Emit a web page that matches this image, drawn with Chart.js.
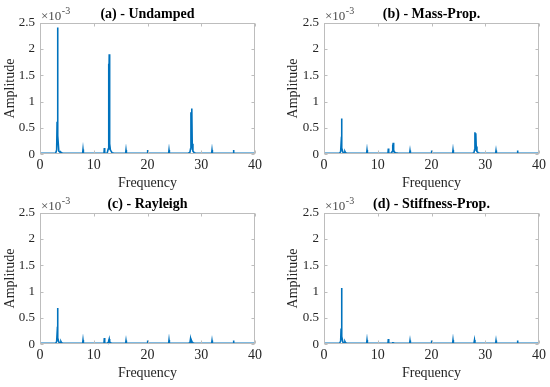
<!DOCTYPE html>
<html>
<head>
<meta charset="utf-8">
<script src="https://cdn.jsdelivr.net/npm/chart.js@4"></script>
<style>
  html, body { margin: 0; padding: 0; background: #ffffff; }
  #wrap { position: relative; width: 550px; height: 387px; overflow: hidden; }
  .panel { position: absolute; width: 275px; height: 197px; }
  .panel canvas { display: block; }
</style>
</head>
<body>
<div id="wrap">
  <div class="panel" style="left:0;top:0"><canvas id="cA" width="275" height="197"></canvas></div>
  <div class="panel" style="left:275px;top:0"><canvas id="cB" width="275" height="197"></canvas></div>
  <div class="panel" style="left:0;top:190px"><canvas id="cC" width="275" height="197"></canvas></div>
  <div class="panel" style="left:275px;top:190px"><canvas id="cD" width="275" height="197"></canvas></div>
</div>
<script>
// ---- Data (frequency axis shared; amplitudes in units of 1e-3) ----
const freq = [0, 2.9, 3.1, 3.18, 3.26, 3.34, 3.5, 3.8, 3.9, 4.0, 4.3,
  7.93, 8.0, 8.07,
  11.9, 11.97, 12.04,
  12.5, 12.68, 12.76, 12.82, 12.88, 12.96, 13.1, 13.4, 13.8,
  15.93, 16.0, 16.07,
  19.93, 20.0, 20.07,
  23.93, 24.0, 24.07,
  27.6, 27.9, 28.0, 28.08, 28.16, 28.24, 28.32, 28.45, 28.7, 29.0,
  31.93, 32.0, 32.07,
  35.93, 36.0, 36.07,
  39.93, 40.0];

const ampUndamped = [0.02, 0.02, 0.08, 0.62, 2.41, 0.35, 0.06, 0.03, 0.04, 0.03, 0.02,
  0.02, 0.09, 0.02,
  0.02, 0.12, 0.02,
  0.02, 0.10, 1.72, 1.10, 1.90, 0.20, 0.08, 0.03, 0.02,
  0.02, 0.08, 0.02,
  0.02, 0.08, 0.02,
  0.02, 0.08, 0.02,
  0.02, 0.04, 0.10, 0.80, 0.50, 0.87, 0.20, 0.06, 0.03, 0.02,
  0.02, 0.08, 0.02,
  0.02, 0.08, 0.02,
  0.02, 0.08];

const ampMassProp = [0.02, 0.02, 0.05, 0.20, 0.68, 0.12, 0.04, 0.03, 0.05, 0.03, 0.02,
  0.02, 0.08, 0.02,
  0.02, 0.11, 0.02,
  0.02, 0.05, 0.18, 0.14, 0.22, 0.08, 0.04, 0.03, 0.02,
  0.02, 0.07, 0.02,
  0.02, 0.07, 0.02,
  0.02, 0.08, 0.02,
  0.02, 0.03, 0.08, 0.42, 0.30, 0.40, 0.15, 0.05, 0.03, 0.02,
  0.02, 0.07, 0.02,
  0.02, 0.07, 0.02,
  0.02, 0.08];

const ampRayleigh = [0.02, 0.02, 0.05, 0.20, 0.69, 0.12, 0.04, 0.03, 0.05, 0.03, 0.02,
  0.02, 0.08, 0.02,
  0.02, 0.12, 0.02,
  0.02, 0.04, 0.09, 0.06, 0.10, 0.05, 0.03, 0.02, 0.02,
  0.02, 0.07, 0.02,
  0.02, 0.07, 0.02,
  0.02, 0.08, 0.02,
  0.02, 0.03, 0.10, 0.05, 0.04, 0.06, 0.04, 0.03, 0.02, 0.02,
  0.02, 0.07, 0.02,
  0.02, 0.07, 0.02,
  0.02, 0.08];

const ampStiffnessProp = [0.02, 0.02, 0.06, 0.30, 1.07, 0.15, 0.04, 0.03, 0.05, 0.03, 0.02,
  0.02, 0.08, 0.02,
  0.02, 0.10, 0.02,
  0.02, 0.02, 0.03, 0.03, 0.03, 0.03, 0.02, 0.02, 0.02,
  0.02, 0.07, 0.02,
  0.02, 0.07, 0.02,
  0.02, 0.08, 0.02,
  0.02, 0.02, 0.08, 0.02, 0.02, 0.02, 0.02, 0.02, 0.02, 0.02,
  0.02, 0.07, 0.02,
  0.02, 0.07, 0.02,
  0.02, 0.08];

const panelTitles = ['(a) - Undamped', '(b) - Mass-Prop.', '(c) - Rayleigh', '(d) - Stiffness-Prop.'];
const xTitle = 'Frequency';
const yTitle = 'Amplitude';
const xTicks = { min: 0, max: 40, step: 10 };
const yTicks = { min: 0, max: 2.5, step: 0.5 };
const exponentBase = '\u00d710';
const exponentPower = '-3';

// ---- Rendering ----
const FONT = "'Liberation Serif', 'Times New Roman', serif";
Chart.defaults.font.family = FONT;
Chart.defaults.color = '#262626';

const boxPlugin = {
  id: 'matlabBox',
  afterDatasetsDraw(chart) {
    const ctx = chart.ctx;
    const { left, right, top, bottom } = chart.chartArea;
    const xs = chart.scales.x, ys = chart.scales.y;
    ctx.save();
    ctx.strokeStyle = '#bdbdbd';
    ctx.lineWidth = 1;
    const L = Math.round(left) + 0.5, R = Math.round(right) - 0.5;
    const T = Math.round(top) + 0.5, B = Math.round(bottom) - 0.5;
    ctx.strokeRect(L, T, R - L, B - T);
    const tl = 3;
    ctx.beginPath();
    xs.ticks.forEach(t => {
      const px = Math.round(xs.getPixelForValue(t.value)) + 0.5;
      ctx.moveTo(px, B); ctx.lineTo(px, B - tl);
      ctx.moveTo(px, T); ctx.lineTo(px, T + tl);
    });
    ys.ticks.forEach(t => {
      const py = Math.round(ys.getPixelForValue(t.value)) + 0.5;
      ctx.moveTo(L, py); ctx.lineTo(L + tl, py);
      ctx.moveTo(R, py); ctx.lineTo(R - tl, py);
    });
    ctx.stroke();
    // exponent label
    ctx.fillStyle = '#4a4a4a';
    ctx.textBaseline = 'alphabetic';
    ctx.textAlign = 'left';
    ctx.font = '13px ' + FONT;
    const ex = left + 1, ey = top - 3;
    ctx.fillText(exponentBase, ex, ey);
    const w = ctx.measureText(exponentBase).width;
    ctx.font = '10px ' + FONT;
    ctx.fillText(exponentPower, ex + w + 0.5, ey - 6);
    ctx.restore();
  }
};

function makePanel(id, title, amps, leftW, rightPad, yTitlePad) {
  const pts = freq.map((f, i) => ({ x: f, y: amps[i] }));
  return new Chart(document.getElementById(id), {
    type: 'line',
    data: {
      datasets: [{
        data: pts,
        borderColor: '#0072BD',
        borderWidth: 1.6,
        pointRadius: 0,
        tension: 0,
        fill: false
      }]
    },
    options: {
      responsive: false,
      animation: false,
      devicePixelRatio: 1,
      layout: { padding: { left: 0, right: rightPad, top: 0, bottom: 0 } },
      plugins: {
        legend: { display: false },
        tooltip: { enabled: false },
        title: {
          display: true,
          text: title,
          fullSize: false,
          color: '#000000',
          font: { size: 14, weight: 'bold', family: FONT },
          padding: { top: 5.6, bottom: 0.3 }
        }
      },
      scales: {
        x: {
          type: 'linear',
          min: xTicks.min, max: xTicks.max,
          ticks: { stepSize: xTicks.step, padding: 2.5, font: { size: 14 }, color: '#262626', maxRotation: 0 },
          grid: { display: false, drawTicks: false },
          border: { display: false },
          title: { display: true, text: xTitle, font: { size: 14 }, color: '#262626', padding: { top: 0, bottom: 5.1 } },
          afterFit(s) { s.height = 42.7; }
        },
        y: {
          type: 'linear',
          min: yTicks.min, max: yTicks.max,
          ticks: {
            stepSize: yTicks.step, padding: 5, font: { size: 13 }, color: '#262626',
            callback: (v) => String(Number(v.toFixed(2)))
          },
          grid: { display: false, drawTicks: false },
          border: { display: false },
          title: { display: true, text: yTitle, font: { size: 14 }, color: '#262626', padding: { top: yTitlePad, bottom: 0 } },
          afterFit(s) { s.width = leftW; }
        }
      }
    },
    plugins: [boxPlugin]
  });
}

makePanel('cA', panelTitles[0], ampUndamped, 40, 20, 2.1);
makePanel('cB', panelTitles[1], ampMassProp, 49, 11, 9.9);
makePanel('cC', panelTitles[2], ampRayleigh, 40, 20, 2.1);
makePanel('cD', panelTitles[3], ampStiffnessProp, 49, 11, 9.9);
</script>
</body>
</html>
